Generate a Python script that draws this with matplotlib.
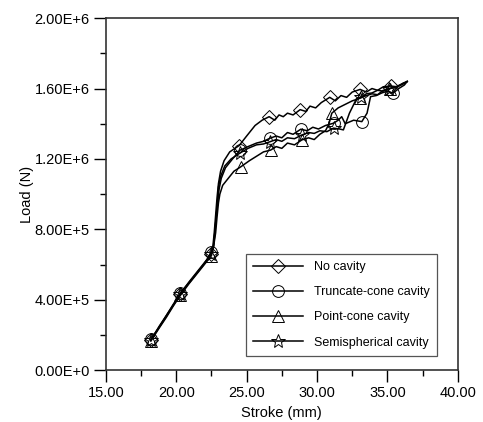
import matplotlib
matplotlib.use("Agg")
import matplotlib.pyplot as plt

plt.rcParams['font.family'] = ['Liberation Sans', 'DejaVu Sans']

# ---------------- data ----------------
labels = ["No cavity", "Truncate-cone cavity", "Point-cone cavity", "Semispherical cavity"]

nc_x = [18.2, 18.8, 19.3, 19.8, 20.3, 20.9, 21.4, 21.9, 22.2, 22.45, 22.6, 22.7, 22.8, 22.9, 23.0,
        23.15, 23.4, 23.8, 24.47, 25.0, 25.6, 26.1, 26.6, 27.0, 27.3, 27.6, 27.9, 28.3, 28.8,
        29.2, 29.5, 29.9, 30.3, 30.9, 31.3, 31.7, 32.1, 32.5, 33.06, 33.5, 33.9, 34.3, 34.7,
        35.24, 35.7, 36.1, 36.4]
nc_y = [1.7e5, 2.5e5, 3.1e5, 3.75e5, 4.35e5, 5.0e5, 5.5e5, 6.0e5, 6.3e5, 6.6e5, 7.0e5, 7.8e5,
        8.8e5, 9.8e5, 1.06e6, 1.13e6, 1.19e6, 1.24e6, 1.276e6, 1.33e6, 1.39e6, 1.42e6, 1.44e6,
        1.42e6, 1.45e6, 1.44e6, 1.46e6, 1.45e6, 1.48e6, 1.47e6, 1.50e6, 1.49e6, 1.52e6, 1.55e6,
        1.53e6, 1.56e6, 1.55e6, 1.58e6, 1.595e6, 1.58e6, 1.60e6, 1.59e6, 1.61e6, 1.614e6,
        1.61e6, 1.63e6, 1.64e6]
nc_mx = [18.2, 20.3, 22.45, 24.47, 26.6, 28.8, 30.9, 33.06, 35.24]

tc_x = [18.2, 18.8, 19.3, 19.8, 20.3, 20.9, 21.4, 21.9, 22.2, 22.5, 22.65, 22.75, 22.85, 22.95,
        23.05, 23.2, 23.5, 24.0, 24.54, 25.1, 25.7, 26.2, 26.67, 27.1, 27.5, 27.9, 28.3, 28.85,
        29.3, 29.7, 30.1, 30.6, 31.17, 31.5, 31.75, 32.0, 32.6, 33.18, 33.55, 33.8, 34.2, 34.6,
        35.0, 35.4, 35.8, 36.2, 36.4]
tc_y = [1.75e5, 2.45e5, 3.1e5, 3.7e5, 4.4e5, 4.95e5, 5.45e5, 5.95e5, 6.3e5, 6.7e5, 7.1e5,
        7.9e5, 8.8e5, 9.6e5, 1.03e6, 1.09e6, 1.15e6, 1.2e6, 1.25e6, 1.27e6, 1.29e6, 1.30e6,
        1.318e6, 1.33e6, 1.32e6, 1.35e6, 1.34e6, 1.369e6, 1.36e6, 1.38e6, 1.37e6, 1.39e6,
        1.403e6, 1.42e6, 1.44e6, 1.40e6, 1.42e6, 1.412e6, 1.46e6, 1.554e6, 1.56e6, 1.575e6,
        1.585e6, 1.574e6, 1.60e6, 1.62e6, 1.64e6]
tc_mx = [18.2, 20.3, 22.5, 24.54, 26.67, 28.85, 31.17, 33.18, 35.4]

pc_x = [18.2, 18.8, 19.3, 19.8, 20.3, 20.9, 21.4, 21.9, 22.2, 22.5, 22.65, 22.8, 22.9, 23.0,
        23.1, 23.3, 23.7, 24.1, 24.6, 25.2, 25.8, 26.2, 26.7, 27.1, 27.5, 27.9, 28.4, 28.92,
        29.4, 29.8, 30.2, 30.6, 30.85, 31.05, 31.5, 32.0, 32.5, 33.06, 33.5, 33.9, 34.3, 34.7,
        35.2, 35.7, 36.1, 36.4]
pc_y = [1.65e5, 2.4e5, 3.0e5, 3.65e5, 4.25e5, 4.9e5, 5.4e5, 5.9e5, 6.2e5, 6.5e5, 7.0e5, 7.8e5,
        8.7e5, 9.5e5, 1.0e6, 1.05e6, 1.09e6, 1.13e6, 1.156e6, 1.19e6, 1.22e6, 1.24e6, 1.25e6,
        1.27e6, 1.26e6, 1.29e6, 1.28e6, 1.308e6, 1.32e6, 1.31e6, 1.34e6, 1.36e6, 1.40e6,
        1.46e6, 1.49e6, 1.51e6, 1.53e6, 1.545e6, 1.56e6, 1.57e6, 1.565e6, 1.59e6, 1.60e6,
        1.61e6, 1.625e6, 1.64e6]
pc_mx = [18.2, 20.3, 22.5, 24.6, 26.7, 28.92, 31.05, 33.06, 35.2]

ss_x = [18.2, 18.8, 19.3, 19.8, 20.3, 20.9, 21.4, 21.9, 22.2, 22.5, 22.65, 22.75, 22.85, 22.95,
        23.0, 23.15, 23.45, 23.9, 24.5, 25.1, 25.7, 26.2, 26.67, 27.1, 27.5, 27.9, 28.4, 28.92,
        29.4, 29.8, 30.2, 30.7, 31.17, 31.6, 31.87, 32.3, 32.82, 33.1, 33.5, 33.9, 34.3, 34.7,
        35.1, 35.6, 36.0, 36.4]
ss_y = [1.7e5, 2.45e5, 3.05e5, 3.7e5, 4.3e5, 4.95e5, 5.45e5, 5.95e5, 6.25e5, 6.6e5, 7.0e5,
        7.8e5, 8.8e5, 9.7e5, 1.04e6, 1.10e6, 1.16e6, 1.2e6, 1.232e6, 1.26e6, 1.28e6, 1.285e6,
        1.298e6, 1.31e6, 1.30e6, 1.32e6, 1.315e6, 1.336e6, 1.35e6, 1.345e6, 1.36e6, 1.355e6,
        1.375e6, 1.37e6, 1.365e6, 1.46e6, 1.545e6, 1.55e6, 1.57e6, 1.575e6, 1.59e6, 1.585e6,
        1.60e6, 1.61e6, 1.625e6, 1.64e6]
ss_mx = [18.2, 20.3, 22.5, 24.5, 26.67, 28.92, 31.17, 33.1, 35.1]

x_ticks = [15, 20, 25, 30, 35, 40]
x_tick_labels = ["15.00", "20.00", "25.00", "30.00", "35.00", "40.00"]
y_ticks = [0, 4e5, 8e5, 1.2e6, 1.6e6, 2.0e6]
y_tick_labels = ["0.00E+0", "4.00E+5", "8.00E+5", "1.20E+6", "1.60E+6", "2.00E+6"]

# ---------------- plot ----------------
fig = plt.figure(figsize=(4.83, 4.22), dpi=100)
ax = fig.add_axes([0.219, 0.123, 0.729, 0.834])

series = [
    (nc_x, nc_y, nc_mx, 'D', 7),
    (tc_x, tc_y, tc_mx, 'o', 8.5),
    (pc_x, pc_y, pc_mx, '^', 9),
    (ss_x, ss_y, ss_mx, '*', 10),
]
for (xs, ys, mxs, mk, ms), lab in zip(series, labels):
    idx = [xs.index(m) for m in mxs]
    ax.plot(xs, ys, color='black', lw=1.1, marker=mk, markersize=ms,
            markevery=idx, fillstyle='none', markeredgewidth=0.7, label=lab)

ax.set_xlim(15, 40)
ax.set_ylim(0, 2.0e6)
ax.set_xticks(x_ticks)
ax.set_xticklabels(x_tick_labels)
ax.set_yticks(y_ticks)
ax.set_yticklabels(y_tick_labels)
ax.set_xticks([17.5, 22.5, 27.5, 32.5, 37.5], minor=True)
ax.set_yticks([2e5, 6e5, 1.0e6, 1.4e6, 1.8e6], minor=True)
ax.tick_params(which='major', direction='out', length=8.5, width=1.0, labelsize=10.5, pad=3)
ax.tick_params(which='minor', direction='out', length=4.3, width=1.0)
ax.tick_params(top=False, right=False, which='both')
for s in ax.spines.values():
    s.set_linewidth(1.2)
    s.set_color('#333333')

ax.set_xlabel("Stroke (mm)", fontsize=10.5, labelpad=4)
ax.set_ylabel("Load (N)", fontsize=10.5, labelpad=0)

leg = ax.legend(loc='lower right', bbox_to_anchor=(0.941, 0.04), fontsize=9,
                frameon=True, fancybox=False, edgecolor='#555555', framealpha=1,
                handlelength=4.0, handletextpad=0.85, labelspacing=1.05, borderpad=0.6,
                borderaxespad=0)
leg.get_frame().set_linewidth(0.9)

fig.savefig("out.png", dpi=100)
